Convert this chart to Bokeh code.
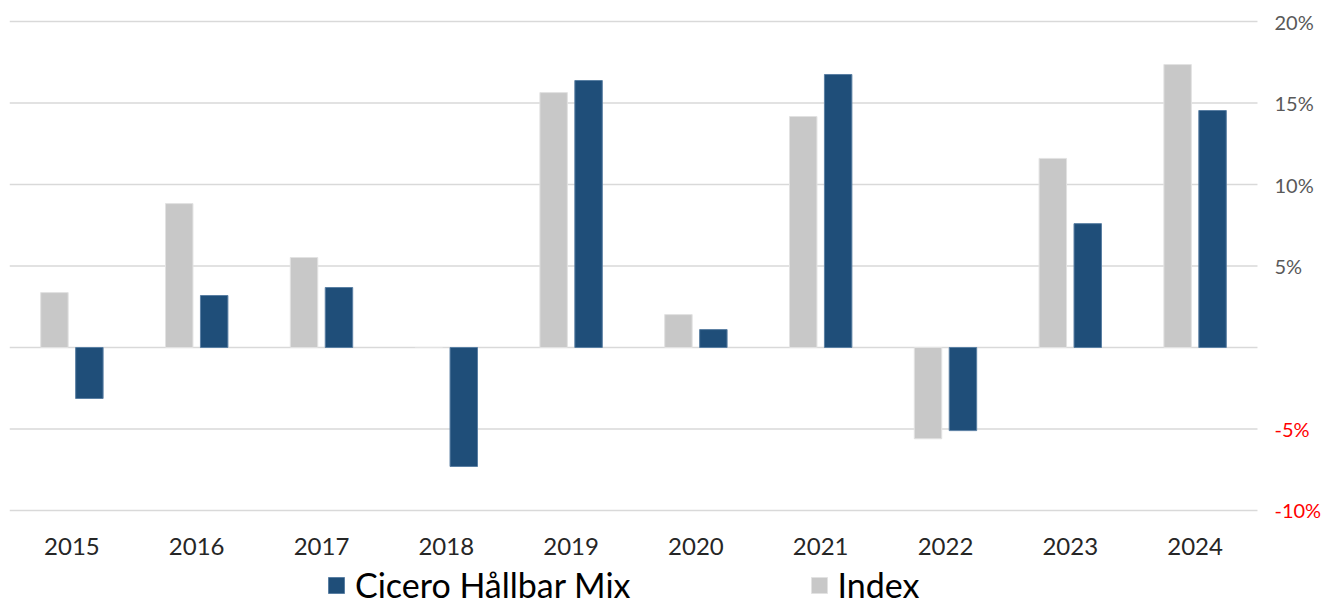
from bokeh.plotting import figure
from bokeh.models import (ColumnDataSource, Range1d, FixedTicker, Legend, LegendItem,
                          LinearAxis, CustomJSTickFormatter)
from bokeh.transform import dodge
from bokeh.embed import file_html
from bokeh.resources import INLINE

years = ["2015", "2016", "2017", "2018", "2019", "2020", "2021", "2022", "2023", "2024"]
index_vals = [3.37, 8.83, 5.52, 0.0, 15.64, 2.02, 14.17, -5.6, 11.6, 17.36]
cicero_vals = [-3.13, 3.19, 3.68, -7.3, 16.38, 1.1, 16.75, -5.1, 7.6, 14.54]
pos_ticks = [0, 5, 10, 15, 20]
neg_ticks = [-5, -10]

FONT = "Lato"

xs = list(range(len(years)))
src = ColumnDataSource(dict(x=xs, year=years, index=index_vals, cicero=cicero_vals))

x_lo, x_hi = -0.5, len(years) - 0.5

p = figure(width=1323, height=605, x_range=Range1d(x_lo, 10.029), y_range=Range1d(-15.83, 21.29),
           output_backend="svg", toolbar_location=None,
           x_axis_location=None, y_axis_location=None,
           min_border_left=9, min_border_right=0, min_border_top=0, min_border_bottom=0)
p.outline_line_color = None
p.background_fill_color = "white"
p.border_fill_color = "white"
p.grid.visible = False

grid_ticks = pos_ticks + neg_ticks
p.segment(x0=[x_lo] * len(grid_ticks), x1=[x_hi] * len(grid_ticks), y0=grid_ticks, y1=grid_ticks,
          line_color="#D9D9D9", line_width=1.5)

r_idx = p.vbar(x=dodge("x", -0.14), top="index", bottom=0, width=0.22,
               source=src, fill_color="#C8C8C8", line_color="#E2E2E2", line_width=1)
r_cic = p.vbar(x=dodge("x", 0.14), top="cicero", bottom=0, width=0.22,
               source=src, fill_color="#1F4E79", line_color="#5A7FA3", line_width=1)

fmt = CustomJSTickFormatter(code="return tick == 0 ? '' : tick + '%';")

def style_axis(ax, color, size, standoff):
    ax.axis_line_color = None
    ax.major_tick_line_color = None
    ax.minor_tick_line_color = None
    ax.major_label_text_font = FONT
    ax.major_label_text_font_size = size
    ax.major_label_text_color = color
    ax.major_label_standoff = standoff

ya = LinearAxis(ticker=FixedTicker(ticks=pos_ticks), formatter=fmt, fixed_location=x_hi)
style_axis(ya, "#595959", "20px", 11)
p.add_layout(ya, "right")

ya_neg = LinearAxis(ticker=FixedTicker(ticks=neg_ticks), formatter=fmt, fixed_location=x_hi)
style_axis(ya_neg, "#FF0000", "20px", 11)
p.add_layout(ya_neg, "right")

xa = LinearAxis(ticker=FixedTicker(ticks=xs), fixed_location=-10,
                major_label_overrides={i: y for i, y in zip(xs, years)})
style_axis(xa, "#262626", "24px", 22)
p.add_layout(xa, "below")

legend = Legend(items=[LegendItem(label="Cicero Hållbar Mix", renderers=[r_cic]),
                       LegendItem(label="Index", renderers=[r_idx])],
                orientation="horizontal", location=(317, 0),
                label_text_font=FONT, label_text_font_size="34px", label_text_color="#000000",
                glyph_width=20, glyph_height=20, label_standoff=9, spacing=178,
                padding=0, margin=0, border_line_color=None, background_fill_alpha=0)
p.add_layout(legend)

open("out.html", "w").write(file_html(p, INLINE))
